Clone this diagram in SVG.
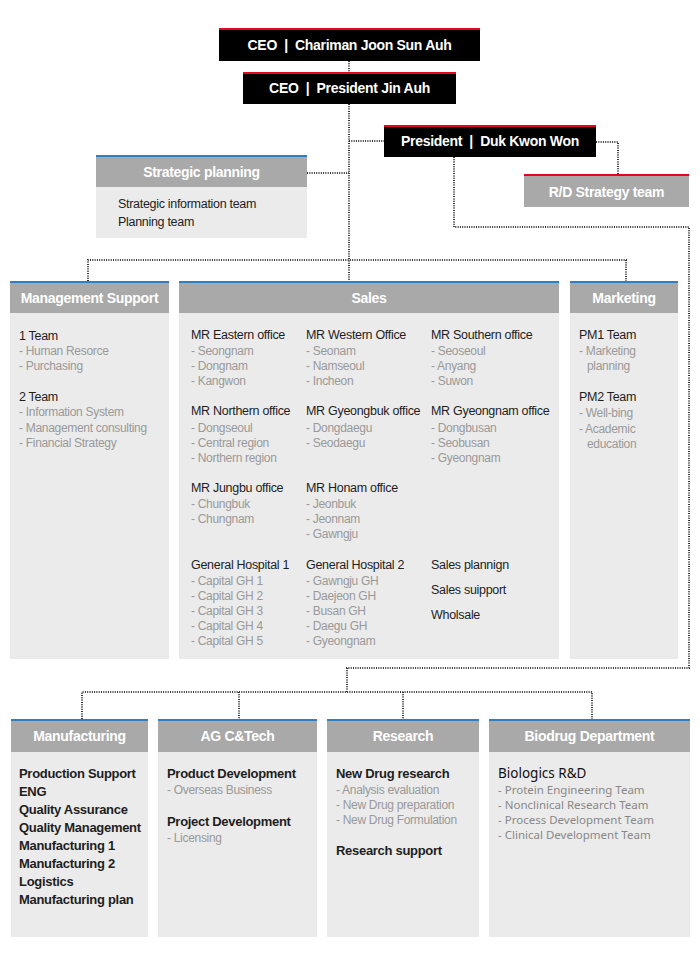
<svg xmlns="http://www.w3.org/2000/svg" width="700" height="960" viewBox="0 0 700 960">
<style>
.blk{fill:#000}
.red{fill:#e4061e}
.blue{fill:#2f7fc1}
.hdr{fill:#a9a9a9}
.body{fill:#ebebeb}
.tw{font-family:"Liberation Sans",Arial,sans-serif;font-weight:bold;fill:#fff;font-size:14px;text-anchor:middle;letter-spacing:-0.3px}
.h{font-family:"Liberation Sans",Arial,sans-serif;fill:#1e1e1e;font-size:12.5px;letter-spacing:-0.3px}
.hb{font-family:"Liberation Sans",Arial,sans-serif;fill:#1e1e1e;font-size:13px;font-weight:bold;letter-spacing:-0.3px}
.i{font-family:"Liberation Sans",Arial,sans-serif;fill:#999;font-size:12px;letter-spacing:-0.3px}
.n{font-family:"Noto Sans","Liberation Sans",sans-serif;fill:#888;font-size:11.5px}
.nb{font-family:"Noto Sans","Liberation Sans",sans-serif;fill:#111;font-size:13.5px}
.con{fill:none;stroke:#333;stroke-width:2;stroke-dasharray:1 1.3}
</style>
<rect width="700" height="960" fill="#fff"/>
<g id="connectors">
<path class="con" d="M349 61V72"/>
<path class="con" d="M349 104V281"/>
<path class="con" d="M349 141H384"/>
<path class="con" d="M307 173H349"/>
<path class="con" d="M596 142H618V174"/>
<path class="con" d="M454 157V227H689V668H347V692"/>
<path class="con" d="M88 281V260H626V281"/>
<path class="con" d="M82 719V692H592V719"/>
<path class="con" d="M239 692V719"/>
<path class="con" d="M403 692V719"/>
</g>
<g id="ceo-chairman">
<rect class="blk" x="219" y="28" width="261" height="33"/>
<rect class="red" x="219" y="28" width="261" height="2"/>
<text class="tw" x="349.5" y="50">CEO&#160;&#160;|&#160;&#160;Chariman Joon Sun Auh</text>
</g>
<g id="ceo-president">
<rect class="blk" x="243" y="72" width="213" height="32"/>
<rect class="red" x="243" y="72" width="213" height="2"/>
<text class="tw" x="349.5" y="93">CEO&#160;&#160;|&#160;&#160;President Jin Auh</text>
</g>
<g id="president">
<rect class="blk" x="384" y="125" width="212" height="32"/>
<rect class="red" x="384" y="125" width="212" height="2"/>
<text class="tw" x="490" y="146">President&#160;&#160;|&#160;&#160;Duk Kwon Won</text>
</g>
<g id="rd-strategy">
<rect class="hdr" x="524" y="174" width="165" height="33"/>
<rect class="red" x="524" y="174" width="165" height="2"/>
<text class="tw" x="606.5" y="197">R/D Strategy team</text>
</g>
<g id="strategic-planning">
<rect class="hdr" x="96" y="155" width="211" height="32"/>
<rect class="blue" x="96" y="155" width="211" height="2"/>
<rect class="body" x="96" y="187" width="211" height="51"/>
<text class="tw" x="201.5" y="177">Strategic planning</text>
<text class="h" x="118" y="208">Strategic information team</text>
<text class="h" x="118" y="226">Planning team</text>
</g>
<g id="management-support">
<rect class="hdr" x="10" y="281" width="159" height="32"/>
<rect class="blue" x="10" y="281" width="159" height="2"/>
<rect class="body" x="10" y="313" width="159" height="346"/>
<text class="tw" x="89.5" y="303">Management Support</text>
<text class="h" x="19" y="340">1 Team</text>
<text class="i" x="19" y="355">- Human Resorce</text>
<text class="i" x="19" y="370">- Purchasing</text>
<text class="h" x="19" y="401">2 Team</text>
<text class="i" x="19" y="416">- Information System</text>
<text class="i" x="19" y="432">- Management consulting</text>
<text class="i" x="19" y="447">- Financial Strategy</text>
</g>
<g id="sales">
<rect class="hdr" x="179" y="281" width="380" height="32"/>
<rect class="blue" x="179" y="281" width="380" height="2"/>
<rect class="body" x="179" y="313" width="380" height="346"/>
<text class="tw" x="369" y="303">Sales</text>
<text class="h" x="191" y="339">MR Eastern office</text>
<text class="i" x="191" y="355">- Seongnam</text>
<text class="i" x="191" y="370">- Dongnam</text>
<text class="i" x="191" y="385">- Kangwon</text>
<text class="h" x="306" y="339">MR Western Office</text>
<text class="i" x="306" y="355">- Seonam</text>
<text class="i" x="306" y="370">- Namseoul</text>
<text class="i" x="306" y="385">- Incheon</text>
<text class="h" x="431" y="339">MR Southern office</text>
<text class="i" x="431" y="355">- Seoseoul</text>
<text class="i" x="431" y="370">- Anyang</text>
<text class="i" x="431" y="385">- Suwon</text>
<text class="h" x="191" y="415">MR Northern office</text>
<text class="i" x="191" y="432">- Dongseoul</text>
<text class="i" x="191" y="447">- Central region</text>
<text class="i" x="191" y="462">- Northern region</text>
<text class="h" x="306" y="415">MR Gyeongbuk office</text>
<text class="i" x="306" y="432">- Dongdaegu</text>
<text class="i" x="306" y="447">- Seodaegu</text>
<text class="h" x="431" y="415">MR Gyeongnam office</text>
<text class="i" x="431" y="432">- Dongbusan</text>
<text class="i" x="431" y="447">- Seobusan</text>
<text class="i" x="431" y="462">- Gyeongnam</text>
<text class="h" x="191" y="492">MR Jungbu office</text>
<text class="i" x="191" y="508">- Chungbuk</text>
<text class="i" x="191" y="523">- Chungnam</text>
<text class="h" x="306" y="492">MR Honam office</text>
<text class="i" x="306" y="508">- Jeonbuk</text>
<text class="i" x="306" y="523">- Jeonnam</text>
<text class="i" x="306" y="538">- Gawngju</text>
<text class="h" x="191" y="569">General Hospital 1</text>
<text class="i" x="191" y="585">- Capital GH 1</text>
<text class="i" x="191" y="600">- Capital GH 2</text>
<text class="i" x="191" y="615">- Capital GH 3</text>
<text class="i" x="191" y="630">- Capital GH 4</text>
<text class="i" x="191" y="645">- Capital GH 5</text>
<text class="h" x="306" y="569">General Hospital 2</text>
<text class="i" x="306" y="585">- Gawngju GH</text>
<text class="i" x="306" y="600">- Daejeon GH</text>
<text class="i" x="306" y="615">- Busan GH</text>
<text class="i" x="306" y="630">- Daegu GH</text>
<text class="i" x="306" y="645">- Gyeongnam</text>
<text class="h" x="431" y="569">Sales plannign</text>
<text class="h" x="431" y="594">Sales suipport</text>
<text class="h" x="431" y="619">Wholsale</text>
</g>
<g id="marketing">
<rect class="hdr" x="570" y="281" width="108" height="32"/>
<rect class="blue" x="570" y="281" width="108" height="2"/>
<rect class="body" x="570" y="313" width="108" height="346"/>
<text class="tw" x="624" y="303">Marketing</text>
<text class="h" x="579" y="339">PM1 Team</text>
<text class="i" x="579" y="355">- Marketing</text>
<text class="i" x="587" y="370">planning</text>
<text class="h" x="579" y="401">PM2 Team</text>
<text class="i" x="579" y="417">- Well-bing</text>
<text class="i" x="579" y="433">- Academic</text>
<text class="i" x="587" y="448">education</text>
</g>
<g id="manufacturing">
<rect class="hdr" x="11" y="719" width="137" height="33"/>
<rect class="blue" x="11" y="719" width="137" height="2"/>
<rect class="body" x="11" y="752" width="137" height="185"/>
<text class="tw" x="79.5" y="741">Manufacturing</text>
<text class="hb" x="19" y="778">Production Support</text>
<text class="hb" x="19" y="796">ENG</text>
<text class="hb" x="19" y="814">Quality Assurance</text>
<text class="hb" x="19" y="832">Quality Management</text>
<text class="hb" x="19" y="850">Manufacturing 1</text>
<text class="hb" x="19" y="868">Manufacturing 2</text>
<text class="hb" x="19" y="886">Logistics</text>
<text class="hb" x="19" y="904">Manufacturing plan</text>
</g>
<g id="ag-ctech">
<rect class="hdr" x="158" y="719" width="159" height="33"/>
<rect class="blue" x="158" y="719" width="159" height="2"/>
<rect class="body" x="158" y="752" width="159" height="185"/>
<text class="tw" x="237.5" y="741">AG C&amp;Tech</text>
<text class="hb" x="167" y="778">Product Development</text>
<text class="i" x="167" y="794">- Overseas Business</text>
<text class="hb" x="167" y="826">Project Development</text>
<text class="i" x="167" y="842">- Licensing</text>
</g>
<g id="research">
<rect class="hdr" x="327" y="719" width="152" height="33"/>
<rect class="blue" x="327" y="719" width="152" height="2"/>
<rect class="body" x="327" y="752" width="152" height="185"/>
<text class="tw" x="403" y="741">Research</text>
<text class="hb" x="336" y="778">New Drug research</text>
<text class="i" x="336" y="794">- Analysis evaluation</text>
<text class="i" x="336" y="809">- New Drug preparation</text>
<text class="i" x="336" y="824">- New Drug Formulation</text>
<text class="hb" x="336" y="855">Research support</text>
</g>
<g id="biodrug">
<rect class="hdr" x="489" y="719" width="201" height="33"/>
<rect class="blue" x="489" y="719" width="201" height="2"/>
<rect class="body" x="489" y="752" width="201" height="185"/>
<text class="tw" x="589.5" y="741">Biodrug Department</text>
<text class="nb" x="498" y="778">Biologics R&amp;D</text>
<text class="n" x="498" y="794">- Protein Engineering Team</text>
<text class="n" x="498" y="809">- Nonclinical Research Team</text>
<text class="n" x="498" y="824">- Process Development Team</text>
<text class="n" x="498" y="839">- Clinical Development Team</text>
</g>
</svg>
